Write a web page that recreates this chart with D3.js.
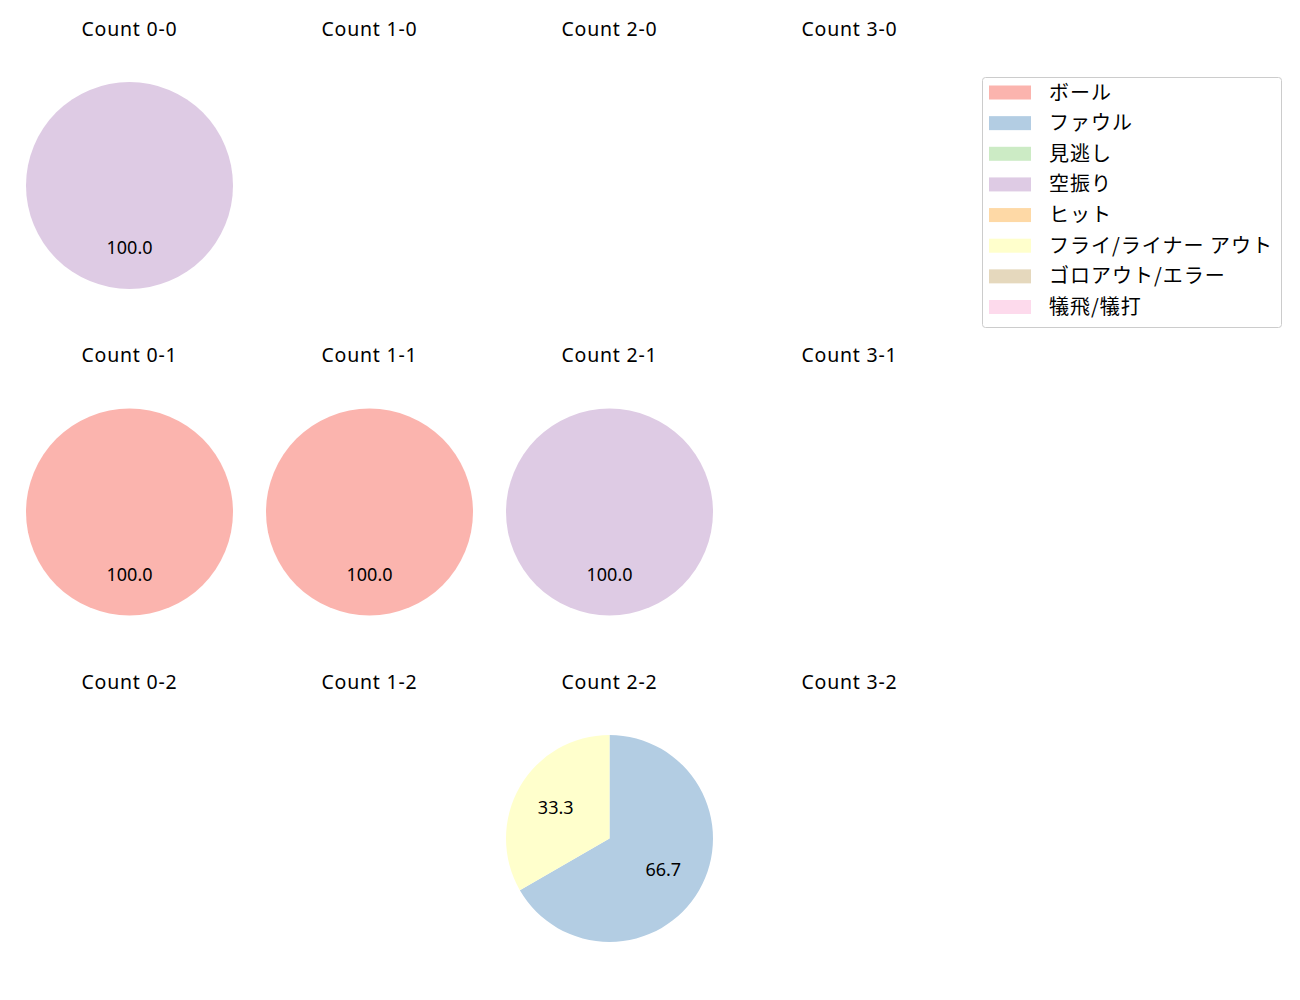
<!DOCTYPE html>
<html lang="ja">
<head>
<meta charset="UTF-8">
<title>Count pies</title>
<script src="https://cdn.jsdelivr.net/npm/d3@7"></script>
<style>
  body { margin: 0; background: #fff; }
  svg { font-family: "Noto Sans", "Noto Sans CJK JP", sans-serif; }
</style>
</head>
<body>
<div class="container"></div>
<script>
// カテゴリと色
const categories = ["ボール", "ファウル", "見逃し", "空振り", "ヒット", "フライ/ライナー アウト", "ゴロアウト/エラー", "犠飛/犠打"];
const colors = ["#fbb4ae", "#b3cde3", "#ccebc5", "#decbe4", "#fed9a6", "#ffffcc", "#e5d8bd", "#fddaec"];

const balls = [0, 1, 2, 3];
const strikes = [0, 1, 2];

// カウント別の件数 (categories の順)
const count00 = [0, 0, 0, 1, 0, 0, 0, 0];
const count10 = [0, 0, 0, 0, 0, 0, 0, 0];
const count20 = [0, 0, 0, 0, 0, 0, 0, 0];
const count30 = [0, 0, 0, 0, 0, 0, 0, 0];
const count01 = [1, 0, 0, 0, 0, 0, 0, 0];
const count11 = [1, 0, 0, 0, 0, 0, 0, 0];
const count21 = [0, 0, 0, 1, 0, 0, 0, 0];
const count31 = [0, 0, 0, 0, 0, 0, 0, 0];
const count02 = [0, 0, 0, 0, 0, 0, 0, 0];
const count12 = [0, 0, 0, 0, 0, 0, 0, 0];
const count22 = [0, 2, 0, 0, 0, 1, 0, 0];
const count32 = [0, 0, 0, 0, 0, 0, 0, 0];

const countData = [
  [count00, count10, count20, count30],
  [count01, count11, count21, count31],
  [count02, count12, count22, count32]
];

const width = 1300, height = 1000;
const radius = 103.5;

const x = d3.scalePoint().domain(balls).range([129.5, 849.5]);
const y = d3.scalePoint().domain(strikes).range([185.5, 838.5]);
const color = d3.scaleOrdinal().domain(categories).range(colors);

const svg = d3.create("svg")
  .attr("width", width)
  .attr("height", height)
  .attr("viewBox", [0, 0, width, height]);

const pie = d3.pie().sort(null).value(d => d.value);
const arc = d3.arc().innerRadius(0).outerRadius(radius);
const labelArc = d3.arc().innerRadius(radius * 0.6).outerRadius(radius * 0.6);

strikes.forEach((s, si) => {
  balls.forEach((b, bi) => {
    const cx = x(b), cy = y(s);
    svg.append("text")
      .attr("x", cx)
      .attr("y", cy - 150)
      .attr("text-anchor", "middle")
      .attr("font-size", 19.5)
      .attr("letter-spacing", 0.8)
      .attr("fill", "#000")
      .text(`Count ${b}-${s}`);

    const vals = countData[si][bi];
    const total = d3.sum(vals);
    if (total === 0) return;
    const items = categories.map((c, i) => ({ cat: c, value: vals[i] })).filter(d => d.value > 0);
    const g = svg.append("g").attr("transform", `translate(${cx},${cy})`);
    const arcs = pie(items);
    g.selectAll("path")
      .data(arcs)
      .join("path")
        .attr("d", arc)
        .attr("fill", d => color(d.data.cat));
    g.selectAll("text")
      .data(arcs)
      .join("text")
        .attr("transform", d => `translate(${labelArc.centroid(d)})`)
        .attr("dy", "0.36em")
        .attr("text-anchor", "middle")
        .attr("font-size", 18)
        .attr("fill", "#000")
        .text(d => (d.data.value / total * 100).toFixed(1));
  });
});

// 凡例
const legend = svg.append("g").attr("transform", "translate(982,77)");
legend.append("rect")
  .attr("x", 0.5).attr("y", 0.5)
  .attr("width", 299).attr("height", 250)
  .attr("rx", 3)
  .attr("fill", "#fff")
  .attr("stroke", "#cccccc");
const ly = d3.scalePoint().domain(categories).range([15.5, 230]);
const items = legend.selectAll("g.item")
  .data(categories)
  .join("g")
    .attr("class", "item")
    .attr("transform", d => `translate(0,${ly(d)})`);
items.append("rect")
  .attr("x", 7).attr("y", -7)
  .attr("width", 42).attr("height", 14)
  .attr("fill", d => color(d));
items.append("text")
  .attr("x", 67)
  .attr("y", 0)
  .attr("dy", "0.35em")
  .attr("font-family", "Noto Sans CJK JP")
  .attr("font-size", 20)
  .attr("letter-spacing", 1)
  .attr("fill", "#000")
  .text(d => d);

document.querySelector(".container").appendChild(svg.node());
</script>
</body>
</html>
